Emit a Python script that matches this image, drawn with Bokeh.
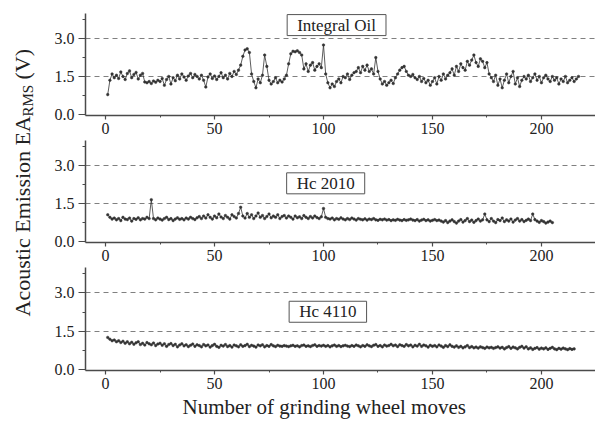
import math
from bokeh.plotting import figure
from bokeh.layouts import column, row
from bokeh.models import Range1d, FixedTicker, Label, NumeralTickFormatter, Title
from bokeh.core.properties import value
from bokeh.embed import file_html
from bokeh.resources import INLINE

FONT = "Liberation Serif"
TICK_FONT = "Liberation Serif, serif"
INK = "#222222"
AXIS = "#4a4a4a"

# ---------------- data ----------------
oil_values = [
    0.78,
    1.35, 1.6, 1.45,
    1.55, 1.42, 1.68, 1.5, 1.38, 1.62, 1.72, 1.45, 1.58, 1.66, 1.4, 1.55, 1.62,
    1.28, 1.25, 1.3, 1.22, 1.32, 1.27, 1.35, 1.3,
    1.42, 1.15, 1.38, 1.5, 1.2, 1.45, 1.33, 1.55, 1.4, 1.6, 1.48, 1.35, 1.52, 1.62, 1.45,
    1.58, 1.5, 1.4, 1.55, 1.35, 1.08, 1.48, 1.6, 1.42, 1.52, 1.38, 1.5, 1.65, 1.45, 1.55,
    1.4, 1.62, 1.5, 1.7, 1.58,
    1.75, 1.95, 2.3, 2.55, 2.6, 2.45,
    1.6, 1.3, 1.05, 1.4, 1.25, 1.55,
    2.35, 1.9,
    1.35, 1.2, 1.3, 1.45, 1.25, 1.35, 1.28, 1.4, 1.55,
    2.0, 2.4, 2.5, 2.48, 2.52, 2.45, 2.35,
    1.8, 2.0, 1.7, 1.95, 2.05, 1.75, 1.9, 2.0, 1.85,
    2.75,
    1.6, 1.25, 1.05, 1.2, 1.1,
    1.3, 1.4, 1.25, 1.5, 1.45, 1.6, 1.38, 1.55, 1.65,
    1.7, 1.85, 1.65, 1.9, 1.75, 1.95, 1.7, 1.8, 1.6, 2.25, 1.7,
    1.4, 1.2, 1.3, 1.15, 1.25, 1.35, 1.22, 1.45,
    1.6, 1.75, 1.85, 1.9, 1.7, 1.55,
    1.5, 1.58, 1.45, 1.38, 1.5, 1.3, 1.42, 1.25, 1.35, 1.15, 1.3, 1.45, 1.2, 1.5, 1.35,
    1.6, 1.4, 1.55,
    1.65, 1.8, 1.55, 1.9, 1.7, 2.0, 1.85, 1.75, 2.1, 1.95, 2.15, 2.35, 2.05, 1.9, 2.2,
    2.1, 1.85, 2.05,
    1.6, 1.45, 1.3, 1.55, 1.15, 1.4, 1.05, 1.35, 1.6, 1.25, 1.5, 1.7, 1.2, 1.45, 1.1,
    1.35, 1.5,
    1.4, 1.55, 1.3, 1.45, 1.6, 1.35, 1.5, 1.25, 1.45, 1.55, 1.4, 1.3, 1.5, 1.35, 1.45,
    1.2, 1.4, 1.3, 1.5, 1.25, 1.35, 1.45, 1.3, 1.4, 1.5,
]

hc2010_values = [
    1.05,
    0.95, 0.88, 0.92, 0.85, 0.9, 0.82, 0.95, 0.88, 0.86, 0.92, 0.8, 0.9, 0.87, 0.93, 0.85,
    0.9, 0.88, 0.95, 0.9,
    1.65,
    0.9, 0.85, 0.92, 0.88, 0.84, 0.9, 0.95, 0.86, 0.9, 0.82, 0.88, 0.93, 0.87, 0.9, 0.85,
    0.92, 0.88, 0.95, 0.9, 0.86, 0.93, 0.98, 0.9, 1.0, 0.92, 1.05, 0.95, 0.88, 1.0, 0.93,
    1.08, 0.96, 0.9, 1.02, 0.95, 0.88, 1.05, 0.98, 0.92, 1.1,
    1.35,
    1.0, 0.92, 1.1, 0.95, 1.05, 0.9, 1.0, 1.12, 0.95, 1.02, 0.9, 0.98, 1.08, 0.93, 1.0,
    0.95, 1.05, 0.9, 0.98, 1.02, 0.92, 1.0, 0.95, 0.88, 1.0, 0.93, 0.97, 0.9, 1.02, 0.95,
    0.9, 0.98, 0.92, 1.0, 0.94, 0.9, 0.97,
    1.3,
    0.95, 0.9, 0.88, 0.92, 0.85, 0.9, 0.87, 0.93, 0.88, 0.85, 0.9, 0.86, 0.92, 0.88, 0.84,
    0.9, 0.87, 0.85, 0.89, 0.84, 0.88, 0.86, 0.9, 0.85, 0.83, 0.87, 0.85, 0.88, 0.84, 0.86,
    0.82, 0.85, 0.83, 0.87, 0.84, 0.82, 0.86, 0.83, 0.85, 0.88, 0.84, 0.82, 0.86, 0.8, 0.84,
    0.87, 0.82, 0.85, 0.8, 0.83, 0.86, 0.82, 0.84,
    0.8, 0.76, 0.82, 0.74, 0.8, 0.85, 0.78, 0.72, 0.8, 0.86, 0.76, 0.82, 0.9, 0.78, 0.84,
    0.75, 0.82, 0.88, 0.8, 0.85,
    1.08,
    0.85, 0.78, 0.9, 0.8, 0.74, 0.86, 0.82, 0.92, 0.78, 0.85, 0.8, 0.88, 0.76, 0.84, 0.9,
    0.8, 0.86, 0.78, 0.83, 0.88, 0.82,
    1.08,
    0.86, 0.8, 0.75, 0.82, 0.78, 0.72, 0.76, 0.8, 0.74,
]

hc4110_values = [
    1.25, 1.18, 1.12, 1.15, 1.08, 1.12, 1.05, 1.1, 1.02, 1.08,
    1.0, 1.06, 0.98, 1.04, 1.08, 0.97, 1.02, 0.95, 1.05, 1.0,
    0.96, 1.03, 0.93, 0.99, 1.02, 0.94, 1.0, 0.9, 0.97, 1.01,
    0.93, 0.98, 0.88, 0.95, 1.0, 0.92, 0.96, 0.89, 0.94, 0.99,
    0.9, 0.96, 0.93, 0.88, 0.97, 0.92, 0.95, 0.87, 0.93, 0.98,
    0.9, 0.86, 0.94, 0.91, 0.97, 0.89, 0.93, 0.87, 0.95, 0.92,
    0.88, 0.96, 0.9, 0.93, 0.98, 0.89, 0.94, 0.91, 0.87, 0.95,
    0.92, 0.96, 0.88, 0.93, 0.9, 0.97, 0.92, 0.89, 0.94, 0.91,
    0.9, 0.93, 0.91, 0.89, 0.92, 0.94, 0.9, 0.92, 0.88, 0.93,
    0.95, 0.9, 0.92, 0.89, 0.93, 0.96, 0.9, 0.93, 0.91, 0.94,
    0.9, 0.93, 0.88, 0.92, 0.95, 0.9, 0.93, 0.89, 0.92, 0.94,
    0.91, 0.89, 0.93, 0.9, 0.95, 0.92, 0.88, 0.93, 0.9, 0.96,
    0.92, 0.89, 0.94, 0.97, 0.9, 0.93, 0.88, 0.95, 0.91, 0.93,
    0.98, 0.92, 0.95, 0.89, 0.96, 0.93, 0.9, 0.97, 0.92, 0.95,
    0.88, 0.94, 0.91, 0.98, 0.9, 0.95, 0.92, 0.87, 0.94, 0.9,
    0.93, 0.88, 0.95, 0.91, 0.86, 0.93, 0.89, 0.96, 0.9, 0.87,
    0.92, 0.86, 0.9, 0.84, 0.88, 0.93, 0.85, 0.89, 0.84, 0.87,
    0.83, 0.88, 0.85, 0.82, 0.87, 0.84, 0.86, 0.82, 0.85, 0.88,
    0.83, 0.86, 0.8, 0.85, 0.89, 0.82, 0.87, 0.84, 0.8, 0.86,
    0.9, 0.83, 0.88, 0.8, 0.84, 0.78, 0.82, 0.85, 0.79, 0.83,
    0.8, 0.84, 0.78, 0.82, 0.86, 0.8, 0.77, 0.82, 0.79, 0.83,
    0.8, 0.77, 0.81, 0.78, 0.8,
]

oil_moves = list(range(1, len(oil_values) + 1))
hc2010_moves = list(range(1, len(hc2010_values) + 1))
hc4110_moves = list(range(1, len(hc4110_values) + 1))

panel_names = ["Integral Oil", "Hc 2010", "Hc 4110"]
x_ticks = [0, 50, 100, 150, 200]
x_minor = [25, 75, 125, 175, 225]
y_ticks = [0.0, 1.5, 3.0]
y_minor = [0.75, 2.25, 3.75]
ref_lines = [1.5, 3.0]
x_label = "Number of grinding wheel moves"

# ---------------- layout ----------------
LABEL_W = 40
MAIN_W = 555
BOT = 25
H1 = 140
H2 = 127
H3 = 161
TOTAL_H = H1 + H2 + H3


def make_panel(moves, vals, name, box_xy, height, top, bottom, last=False):
    p = figure(width=MAIN_W, height=height, output_backend="svg",
               toolbar_location=None,
               x_range=Range1d(-9.2, 224.8), y_range=Range1d(-0.05, 4.0),
               min_border_left=45, min_border_right=0,
               min_border_top=top, min_border_bottom=bottom)
    p.outline_line_color = None
    p.background_fill_color = "white"
    p.border_fill_color = "white"

    p.xgrid.visible = False
    p.ygrid.ticker = FixedTicker(ticks=ref_lines)
    p.ygrid.grid_line_color = "#808080"
    p.ygrid.grid_line_dash = "5 4"
    p.ygrid.grid_line_width = 1

    p.xaxis.ticker = FixedTicker(ticks=x_ticks, minor_ticks=x_minor)
    p.yaxis.ticker = FixedTicker(ticks=y_ticks, minor_ticks=y_minor)
    p.yaxis.formatter = NumeralTickFormatter(format="0.0")

    p.axis.axis_line_color = AXIS
    p.axis.axis_line_width = 1.5
    p.axis.major_tick_line_color = AXIS
    p.axis.minor_tick_line_color = AXIS
    p.axis.major_tick_line_width = 1.2
    p.axis.major_tick_in = 0
    p.axis.minor_tick_in = 0
    p.axis.major_label_text_font = TICK_FONT
    p.axis.major_label_text_font_size = "16px"
    p.axis.major_label_text_color = INK
    p.xaxis.major_tick_out = 4
    p.xaxis.minor_tick_out = 2
    p.xaxis.major_label_standoff = 3
    p.yaxis.major_tick_out = 7
    p.yaxis.minor_tick_out = 3
    p.yaxis.major_label_standoff = 4

    if last:
        t = Title(text=x_label, align="left", offset=97, standoff=2,
                  text_font=FONT, text_font_size="21px",
                  text_font_style="normal", text_color=INK)
        p.add_layout(t, "below")

    p.line(moves, vals, line_color="#333333", line_width=0.8)
    p.scatter(moves, vals, size=2.6, marker="circle",
              fill_color="#333333", line_color="#333333", line_width=0.5)

    lab = Label(x=box_xy[0], y=box_xy[1], text=name,
                text_align="center", text_baseline="middle",
                text_font=FONT, text_font_size="17px", text_color=INK,
                border_line_color="#555555", border_line_width=1,
                background_fill_color="white",
                padding={"left": 10, "right": 10, "top": 1, "bottom": 1})
    p.add_layout(lab)
    return p


p1 = make_panel(oil_moves, oil_values, panel_names[0], (106, 3.54), H1, 13, BOT)
p2 = make_panel(hc2010_moves, hc2010_values, panel_names[1], (101, 2.3), H2, 0, BOT)
p3 = make_panel(hc4110_moves, hc4110_values, panel_names[2], (102, 2.26), H3, 0, 58, last=True)

# y-axis title shared by the three panels, with RMS as a subscript
lf = figure(width=LABEL_W, height=TOTAL_H, output_backend="svg",
            toolbar_location=None, x_axis_type=None, y_axis_type=None,
            x_range=Range1d(0, LABEL_W), y_range=Range1d(0, TOTAL_H),
            min_border_left=0, min_border_right=0,
            min_border_top=0, min_border_bottom=0)
lf.outline_line_color = None
lf.text(x=[22], y=[TOTAL_H - 316], text=["Acoustic Emission EA"], angle=math.pi / 2,
        text_font=value(FONT), text_font_size="22px", text_color=INK,
        text_align="left", text_baseline="middle")
lf.text(x=[27], y=[TOTAL_H - 116], text=["RMS"], angle=math.pi / 2,
        text_font=value(FONT), text_font_size="15px", text_color=INK,
        text_align="left", text_baseline="middle")
lf.text(x=[22], y=[TOTAL_H - 79], text=["(V)"], angle=math.pi / 2,
        text_font=value(FONT), text_font_size="22px", text_color=INK,
        text_align="left", text_baseline="middle")

layout = row(lf, column(p1, p2, p3))

open("out.html", "w").write(file_html(layout, INLINE))
